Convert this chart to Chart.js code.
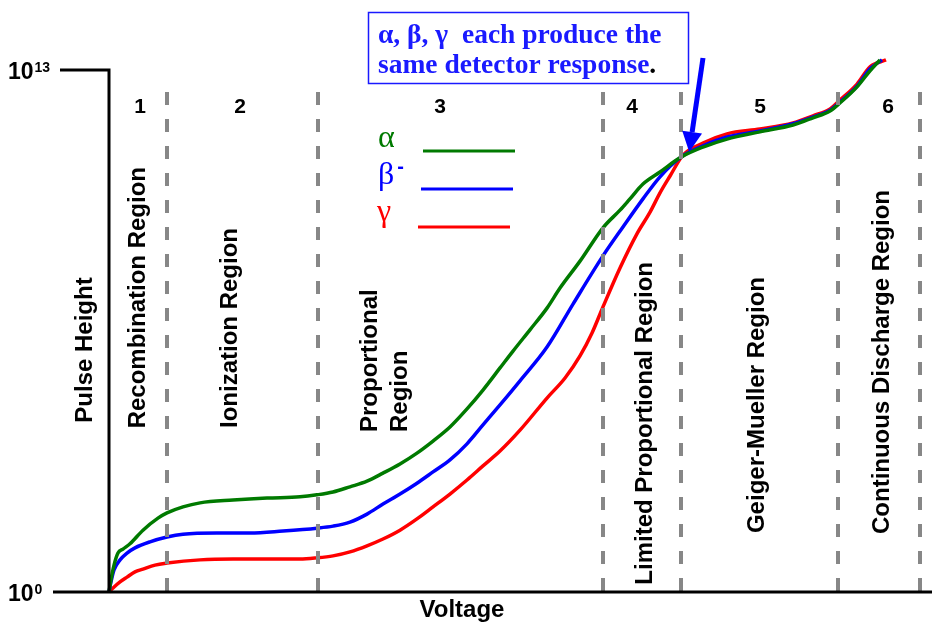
<!DOCTYPE html>
<html>
<head>
<meta charset="utf-8">
<title>Gas-filled detector regions</title>
<script src="https://cdn.jsdelivr.net/npm/chart.js@4.4.1/dist/chart.umd.min.js"></script>
<style>
  html, body { margin: 0; padding: 0; background: #ffffff; }
  canvas { display: block; }
</style>
</head>
<body>
<canvas id="chart" width="932" height="624"></canvas>
<script>
// Applied voltage (arbitrary units, 0–100) and pulse height as a power of ten.
const alphaVoltage = [0, 0.24, 0.61, 1.09, 1.7, 2.55, 4.13, 5.95, 7.05, 8.99, 11.06, 15.07, 19.2, 23.21, 25.27, 27.22, 29.28, 31.35, 33.29, 35.36, 37.42, 39.37, 41.43, 43.5, 45.44, 47.51, 49.09, 51.15, 53.22, 54.8, 57.23, 60.02, 62.09, 63.3, 64.88, 66.95, 69.5, 72.17, 75.09, 79.1, 83.11, 85.54, 87.61, 88.82, 90.89, 92.47, 93.68];
const alphaPulseExp = [0, 0.3, 0.67, 0.97, 1.07, 1.2, 1.54, 1.84, 1.97, 2.12, 2.22, 2.29, 2.34, 2.37, 2.42, 2.49, 2.62, 2.76, 2.96, 3.19, 3.46, 3.76, 4.11, 4.56, 5.03, 5.58, 6.0, 6.53, 7.07, 7.57, 8.24, 9.07, 9.51, 9.79, 10.16, 10.46, 10.83, 11.08, 11.28, 11.46, 11.63, 11.81, 11.98, 12.18, 12.58, 12.98, 13.25];

const betaVoltage = [0, 0.24, 0.61, 1.34, 2.19, 3.16, 4.98, 7.05, 8.99, 13.12, 17.13, 21.14, 25.27, 27.22, 29.28, 31.35, 33.29, 35.36, 37.42, 39.37, 41.43, 43.5, 45.44, 47.51, 49.94, 53.22, 56.38, 60.02, 62.45, 64.88, 66.95, 69.5, 72.17, 75.09, 79.1, 83.11, 85.54, 87.61, 88.82, 90.89, 92.47, 93.92];
const betaPulseExp = [0, 0.25, 0.55, 0.8, 0.97, 1.1, 1.25, 1.37, 1.44, 1.47, 1.47, 1.52, 1.59, 1.64, 1.74, 1.94, 2.19, 2.44, 2.71, 2.99, 3.29, 3.69, 4.16, 4.66, 5.26, 6.1, 7.17, 8.37, 9.09, 9.79, 10.34, 10.83, 11.11, 11.33, 11.48, 11.66, 11.83, 12.0, 12.2, 12.6, 13.03, 13.25];

const gammaVoltage = [0, 0.49, 1.34, 2.19, 3.16, 4.13, 5.59, 7.05, 11.06, 15.07, 19.2, 23.21, 25.27, 27.22, 29.28, 31.35, 33.29, 35.36, 37.42, 39.37, 41.43, 43.5, 45.44, 47.51, 49.94, 53.22, 55.41, 57.23, 58.69, 60.02, 62.09, 64.15, 65.74, 66.95, 68.17, 69.74, 72.17, 75.09, 79.1, 83.11, 85.54, 87.61, 88.82, 90.89, 92.47, 94.41];
const gammaPulseExp = [0, 0.1, 0.25, 0.37, 0.5, 0.57, 0.67, 0.72, 0.8, 0.82, 0.82, 0.82, 0.85, 0.9, 1.0, 1.15, 1.32, 1.54, 1.82, 2.12, 2.44, 2.79, 3.14, 3.51, 4.03, 4.83, 5.33, 5.88, 6.45, 7.1, 8.07, 8.92, 9.46, 9.94, 10.36, 10.88, 11.18, 11.41, 11.53, 11.68, 11.86, 12.03, 12.25, 12.65, 13.08, 13.25];

// Region boundaries on the voltage axis, region numbers and names.
const regionBounds = [7.05, 25.4, 60.0, 69.5, 88.6, 98.5];
const regionNumbers = ['1', '2', '3', '4', '5', '6'];
const regionNames = ['Recombination Region', 'Ionization Region', ['Proportional', 'Region'], 'Limited Proportional Region', 'Geiger-Mueller Region', 'Continuous Discharge Region'];

// Pulse-height axis ends (exponents of ten).
const yTickExponents = [0, 13];

const seriesNames = ['\u03b1', '\u03b2', '\u03b3'];
const seriesColors = ['#007a00', '#0000ff', '#ff0000'];

const toPoints = (xs, ys) => xs.map((v, i) => ({ x: v, y: ys[i] }));

const BOLD_SANS = '"Liberation Sans", Arial, sans-serif';
const SERIF = '"Liberation Serif", "Times New Roman", serif';

const decorations = {
  id: 'decorations',
  afterDatasetsDraw(chart) {
    const { ctx, scales: { x, y } } = chart;
    const X = v => x.getPixelForValue(v);
    const Y = e => y.getPixelForValue(e);
    const x0 = X(0), yBottom = Y(0), yTop = Y(13);
    ctx.save();

    // dashed region boundaries
    ctx.strokeStyle = '#878787';
    ctx.lineWidth = 4;
    ctx.setLineDash([13, 14]);
    regionBounds.forEach(b => {
      const px = Math.round(X(b));
      ctx.beginPath();
      ctx.moveTo(px, 92);
      ctx.lineTo(px, yBottom);
      ctx.stroke();
    });
    ctx.setLineDash([]);

    // axes
    ctx.strokeStyle = '#000';
    ctx.lineWidth = 3;
    ctx.lineJoin = 'miter';
    ctx.beginPath();
    ctx.moveTo(60, yTop);
    ctx.lineTo(x0, yTop);
    ctx.lineTo(x0, yBottom);
    ctx.stroke();
    ctx.beginPath();
    ctx.moveTo(53, yBottom);
    ctx.lineTo(chart.width, yBottom);
    ctx.stroke();

    // tick labels 10^n
    ctx.fillStyle = '#000';
    ctx.textBaseline = 'alphabetic';
    yTickExponents.forEach(e => {
      const py = Y(e);
      ctx.font = 'bold 23px ' + BOLD_SANS;
      ctx.textAlign = 'left';
      ctx.fillText('10', 8, py + 9);
      const w = ctx.measureText('10').width;
      ctx.font = 'bold 14px ' + BOLD_SANS;
      ctx.fillText(String(e), 8 + w + 1, py + 2);
    });

    // axis titles
    ctx.font = 'bold 24px ' + BOLD_SANS;
    ctx.textAlign = 'center';
    ctx.fillText('Voltage', 462, 617);
    ctx.save();
    ctx.translate(85, 350);
    ctx.rotate(-Math.PI / 2);
    ctx.textBaseline = 'middle';
    ctx.fillText('Pulse Height', 0, 0);
    ctx.restore();

    // region numbers
    const numberX = [140, 240, 440, 632, 760, 888];
    ctx.font = 'bold 21px ' + BOLD_SANS;
    ctx.textAlign = 'center';
    ctx.textBaseline = 'alphabetic';
    regionNumbers.forEach((n, i) => ctx.fillText(n, numberX[i], 113));

    // region names, written bottom-to-top
    const nameX = [138, 230, [370, 400], 645, 757, 882];
    const nameTop = [167, 228, null, 262, 277, 190];
    ctx.font = 'bold 24px ' + BOLD_SANS;
    ctx.textBaseline = 'middle';
    regionNames.forEach((name, i) => {
      if (Array.isArray(name)) {
        name.forEach((line, j) => {
          ctx.save();
          ctx.translate(nameX[i][j], 432);
          ctx.rotate(-Math.PI / 2);
          ctx.textAlign = 'left';
          ctx.fillText(line, 0, 0);
          ctx.restore();
        });
      } else {
        ctx.save();
        ctx.translate(nameX[i], nameTop[i]);
        ctx.rotate(-Math.PI / 2);
        ctx.textAlign = 'right';
        ctx.fillText(name, 0, 0);
        ctx.restore();
      }
    });

    // legend
    const legendRows = [
      { sym: 0, tx: 378, ty: 147, x1: 423, x2: 515, ly: 151 },
      { sym: 1, tx: 378, ty: 184, x1: 421, x2: 513, ly: 189 },
      { sym: 2, tx: 377, ty: 221, x1: 418, x2: 510, ly: 227 }
    ];
    legendRows.forEach(r => {
      const c = seriesColors[r.sym];
      ctx.fillStyle = c;
      ctx.strokeStyle = c;
      ctx.font = '32px ' + SERIF;
      ctx.textAlign = 'left';
      ctx.textBaseline = 'alphabetic';
      ctx.fillText(seriesNames[r.sym], r.tx, r.ty);
      if (r.sym === 1) {
        const w = ctx.measureText(seriesNames[1]).width;
        ctx.font = 'bold 20px ' + BOLD_SANS;
        ctx.fillText('-', r.tx + w + 3, r.ty - 11);
      }
      ctx.lineWidth = 3;
      ctx.beginPath();
      ctx.moveTo(r.x1, r.ly);
      ctx.lineTo(r.x2, r.ly);
      ctx.stroke();
    });

    // annotation box
    ctx.fillStyle = '#ffffff';
    ctx.fillRect(368, 12, 320, 71);
    ctx.strokeStyle = '#1a1aff';
    ctx.lineWidth = 1.5;
    ctx.strokeRect(368.5, 12.5, 320, 71);
    ctx.font = 'bold 27.5px ' + SERIF;
    ctx.textAlign = 'left';
    ctx.fillStyle = '#1a1aff';
    ctx.fillText('\u03b1, \u03b2, \u03b3  each produce the', 378, 43);
    const line2 = 'same detector response';
    ctx.fillText(line2, 378, 73);
    const w2 = ctx.measureText(line2).width;
    ctx.fillStyle = '#000';
    ctx.fillText('.', 378 + w2, 73);

    // arrow pointing at the crossover
    const tipX = X(70.5), tipY = Y(10.96);
    const tailX = 703, tailY = 58;
    const ang = Math.atan2(tipY - tailY, tipX - tailX);
    const headLen = 20, headHalf = 10;
    const baseX = tipX - headLen * Math.cos(ang), baseY = tipY - headLen * Math.sin(ang);
    ctx.strokeStyle = '#0000ff';
    ctx.fillStyle = '#0000ff';
    ctx.lineWidth = 5;
    ctx.beginPath();
    ctx.moveTo(tailX, tailY);
    ctx.lineTo(baseX, baseY);
    ctx.stroke();
    ctx.beginPath();
    ctx.moveTo(tipX, tipY);
    ctx.lineTo(baseX + headHalf * Math.sin(ang), baseY - headHalf * Math.cos(ang));
    ctx.lineTo(baseX - headHalf * Math.sin(ang), baseY + headHalf * Math.cos(ang));
    ctx.closePath();
    ctx.fill();

    ctx.restore();
  }
};

const lineStyle = color => ({
  borderColor: color,
  backgroundColor: color,
  borderWidth: 3.5,
  pointRadius: 0,
  fill: false,
  cubicInterpolationMode: 'monotone',
  clip: false
});

new Chart(document.getElementById('chart'), {
  type: 'line',
  data: {
    datasets: [
      { label: '\u03b1', data: toPoints(alphaVoltage, alphaPulseExp), ...lineStyle(seriesColors[0]) },
      { label: '\u03b2-', data: toPoints(betaVoltage, betaPulseExp), ...lineStyle(seriesColors[1]) },
      { label: '\u03b3', data: toPoints(gammaVoltage, gammaPulseExp), ...lineStyle(seriesColors[2]) }
    ]
  },
  options: {
    responsive: false,
    animation: false,
    devicePixelRatio: 1,
    layout: { padding: { left: 109, right: 0, top: 70, bottom: 32 } },
    plugins: { legend: { display: false }, tooltip: { enabled: false } },
    scales: {
      x: { type: 'linear', min: 0, max: 100, display: false },
      y: { type: 'linear', min: 0, max: 13, display: false }
    }
  },
  plugins: [decorations]
});
</script>
</body>
</html>
